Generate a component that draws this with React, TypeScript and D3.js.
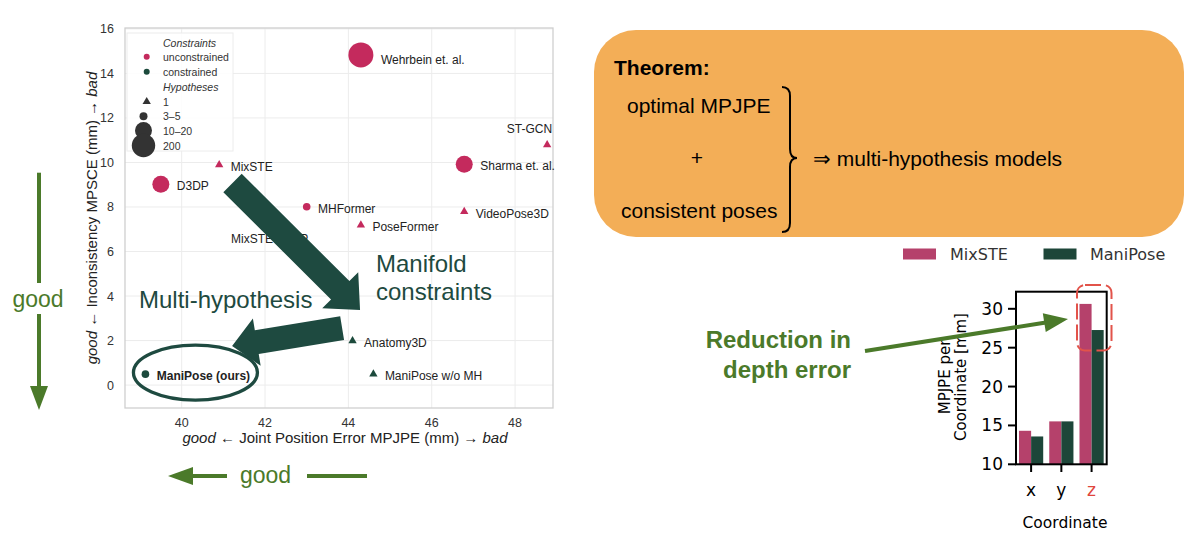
import * as d3 from 'd3';

// scatter data: MPJPE vs MPSCE
const methods = ['Wehrbein et. al.', 'ST-GCN', 'Sharma et. al.', 'MixSTE', 'D3DP', 'MHFormer', 'PoseFormer', 'VideoPose3D', 'Anatomy3D', 'ManiPose w/o MH', 'ManiPose (ours)'];
const mpjpe = [44.3, 48.77, 46.78, 40.9, 39.5, 43.0, 44.3, 46.78, 44.1, 44.6, 39.13];
const mpsce = [14.83, 10.79, 9.92, 9.89, 9.02, 8.01, 7.19, 7.79, 1.99, 0.49, 0.49];
const hypotheses = ['200', '1', '10–20', '1', '10–20', '3–5', '1', '1', '1', '1', '3–5'];
const constrained = [false, false, false, false, false, false, false, false, true, true, true];

const xTicks = [40, 42, 44, 46, 48];
const yTicks = [0, 2, 4, 6, 8, 10, 12, 14, 16];
const hypoLevels = ['1', '3–5', '10–20', '200'];
const constraintLevels = ['unconstrained', 'constrained'];

// bar chart data
const coords = ['x', 'y', 'z'];
const mixste = [14.31, 15.52, 30.63];
const manipose = [13.58, 15.52, 27.27];
const barTicks = [10, 15, 20, 25, 30];

const PINK = '#c42a5d';
const DARK = '#1c4a3c';
const GOOD = '#4b7a2a';
const ARROW = '#1e4a40';
const SANS = '"Liberation Sans", Arial, sans-serif';
const DV = '"DejaVu Sans", sans-serif';

function arrowPoly(x0: number, y0: number, x1: number, y1: number, sw: number, hw: number, hl: number) {
  const dx = x1 - x0, dy = y1 - y0;
  const L = Math.hypot(dx, dy);
  const ux = dx / L, uy = dy / L;
  const px = -uy, py = ux;
  const bx = x1 - ux * hl, by = y1 - uy * hl;
  const pts = [
    [x0 + px * sw / 2, y0 + py * sw / 2],
    [bx + px * sw / 2, by + py * sw / 2],
    [bx + px * hw / 2, by + py * hw / 2],
    [x1, y1],
    [bx - px * hw / 2, by - py * hw / 2],
    [bx - px * sw / 2, by - py * sw / 2],
    [x0 - px * sw / 2, y0 - py * sw / 2],
  ];
  return pts.map((p) => p.join(',')).join(' ');
}

export default function App() {
  const x = d3.scaleLinear().domain([38.64, 48.91]).range([125, 553]);
  const y = d3.scaleLinear().domain([-1.03, 16.04]).range([408, 28]);
  const radius = d3.scaleOrdinal<string, number>().domain(hypoLevels).range([0, 3.8, 8.5, 12.5]);
  const colour = (c: boolean) => (c ? DARK : PINK);
  const tri = d3.symbol(d3.symbolTriangle, 30)() as string;

  const bx = d3.scalePoint<string>().domain(coords).range([1016, 1106.7]).padding(0.5);
  const by = d3.scaleLinear().domain([10, 32.2]).range([464.3, 291.7]);
  const bw = bx.step() * 0.4;

  const marker = (h: string, c: boolean, cx: number, cy: number, key?: any) =>
    h === '1' ? (
      <path key={key} d={tri} transform={`translate(${cx},${cy})`} fill={colour(c)} />
    ) : (
      <circle key={key} cx={cx} cy={cy} r={radius(h)} fill={colour(c)} />
    );

  const a1 = arrowPoly(x(41.22), y(9.08), x(44.28), y(3.37), 26, 51, 28);
  const a2 = arrowPoly(x(43.85), y(2.56), x(41.21), y(1.75), 24, 48, 25);
  const redArrow = arrowPoly(865, 351, 1068, 319, 4, 19, 24);

  return (
    <svg width={1200} height={539} style={{ position: 'absolute', left: 0, top: 0, background: '#fff' }}>
      {/* ---------- scatter ---------- */}
      <g fontFamily={SANS}>
        {xTicks.map((t) => (
          <line key={'gx' + t} x1={x(t)} x2={x(t)} y1={28} y2={408} stroke="#ececec" />
        ))}
        {yTicks.map((t) => (
          <line key={'gy' + t} x1={125} x2={553} y1={y(t)} y2={y(t)} stroke="#ececec" />
        ))}
        <rect x={125} y={28} width={428} height={380} fill="none" stroke="#cfcfcf" strokeWidth={1.3} />
        {xTicks.map((t) => (
          <text key={'tx' + t} x={x(t)} y={427} textAnchor="middle" fontSize={12.5} fill="#333">{t}</text>
        ))}
        {yTicks.map((t) => (
          <text key={'ty' + t} x={114} y={y(t) + 4.5} textAnchor="end" fontSize={12.5} fill="#333">{t}</text>
        ))}
        <text x={345} y={443} textAnchor="middle" fontSize={15} fill="#222">
          <tspan fontStyle="italic">good</tspan> ← Joint Position Error MPJPE (mm) → <tspan fontStyle="italic">bad</tspan>
        </text>
        <text transform="translate(97,218) rotate(-90)" textAnchor="middle" fontSize={15} fill="#222">
          <tspan fontStyle="italic">good</tspan> ← Inconsistency MPSCE (mm) → <tspan fontStyle="italic">bad</tspan>
        </text>

        {/* point labels */}
        {methods.map((m, i) => {
          const r = hypotheses[i] === '1' ? 4 : radius(hypotheses[i]);
          const isTop = m === 'ST-GCN';
          return (
            <text
              key={'lb' + m}
              x={isTop ? x(mpjpe[i]) + 5 : x(mpjpe[i]) + r + 7.5}
              y={isTop ? y(mpsce[i]) - 12 : y(mpsce[i]) + (r > 10 ? 9 : 6)}
              textAnchor={isTop ? 'end' : 'start'}
              fontSize={12}
              fontWeight={m === 'ManiPose (ours)' ? 'bold' : 'normal'}
              fill="#222"
            >
              {m}
            </text>
          );
        })}
        <text x={231} y={242.5} fontSize={12} fill="#222">MixSTE w/ DP</text>

        {methods.map((m, i) => marker(hypotheses[i], constrained[i], x(mpjpe[i]), y(mpsce[i]), 'pt' + m))}

        {/* legend */}
        <rect x={127} y={33} width={106} height={118} fill="#fff" fillOpacity={0.85} stroke="#ececec" />
        <text x={163} y={46.5} fontSize={10.5} fontStyle="italic" fill="#333">Constraints</text>
        {constraintLevels.map((c, i) => (
          <g key={'lc' + c}>
            <circle cx={146.7} cy={56.7 + i * 15} r={3} fill={colour(i === 1)} />
            <text x={163} y={60.5 + i * 15} fontSize={10.5} fill="#333">{c}</text>
          </g>
        ))}
        <text x={163} y={90.5} fontSize={10.5} fontStyle="italic" fill="#333">Hypotheses</text>
        {hypoLevels.map((h, i) => {
          const cy = [101.7, 116.3, 130.5, 145.5][i];
          return (
            <g key={'lh' + h}>
              {h === '1' ? (
                <path d={tri} transform={`translate(146.7,${cy})`} fill="#333" />
              ) : (
                <circle cx={143.5} cy={cy} r={[0, 4, 8.5, 11.7][i]} fill="#333" />
              )}
              <text x={163} y={cy + 4} fontSize={10.5} fill="#333">{h}</text>
            </g>
          );
        })}

        {/* big annotation arrows */}
        <polygon points={a1} fill={ARROW} />
        <polygon points={a2} fill={ARROW} />
        <text x={376} y={272} fontSize={24} fill={ARROW}>Manifold</text>
        <text x={376} y={300} fontSize={24} fill={ARROW}>constraints</text>
        <text x={139} y={308} fontSize={24} fill={ARROW}>Multi-hypothesis</text>
        <ellipse cx={x(40.33)} cy={y(0.56)} rx={62} ry={27.5} fill="none" stroke={ARROW} strokeWidth={3.3} />

        {/* good arrows */}
        <line x1={39} x2={39} y1={172.7} y2={283} stroke={GOOD} strokeWidth={4} />
        <line x1={39} x2={39} y1={314} y2={388} stroke={GOOD} strokeWidth={4} />
        <polygon points="30,386 48,386 39,410" fill={GOOD} />
        <text x={38} y={307} textAnchor="middle" fontSize={23} fill={GOOD}>good</text>
        <polygon points="168,476 193,467 193,485" fill={GOOD} />
        <line x1={191} x2={227} y1={476} y2={476} stroke={GOOD} strokeWidth={4} />
        <text x={240} y={483} fontSize={23} fill={GOOD}>good</text>
        <line x1={307} x2={367} y1={476} y2={476} stroke={GOOD} strokeWidth={4} />
      </g>

      {/* ---------- theorem box ---------- */}
      <g fontFamily={SANS}>
        <rect x={594} y={30} width={590} height={207} rx={42} fill="#f3ae57" />
        <text x={614} y={75} fontSize={21} fontWeight="bold" fill="#000">Theorem:</text>
        <text x={627} y={113} fontSize={21} fill="#000">optimal MPJPE</text>
        <text x={697} y={165} fontSize={21} textAnchor="middle" fill="#000">+</text>
        <text x={621} y={218} fontSize={21} fill="#000">consistent poses</text>
        <path
          d="M782,87 Q790,87 790,96 L790,149 Q790,158 797,158 Q790,158 790,167 L790,223 Q790,232 782,232"
          fill="none"
          stroke="#000"
          strokeWidth={2}
        />
        <text x={813} y={166} fontSize={21} fill="#000">⇒ multi-hypothesis models</text>
      </g>

      {/* ---------- bar chart ---------- */}
      <g fontFamily={DV}>
        <rect x={903} y={248.5} width={33} height={11} fill="#b5416b" />
        <text x={950} y={260} fontSize={16} fill="#333">MixSTE</text>
        <rect x={1043.5} y={248.5} width={33} height={11} fill="#1d4639" />
        <text x={1090} y={260} fontSize={16} fill="#333">ManiPose</text>

        {coords.map((c, i) => (
          <g key={'bar' + c}>
            <rect x={(bx(c) as number) - bw} y={by(mixste[i])} width={bw} height={by(10) - by(mixste[i])} fill="#b5416b" />
            <rect x={bx(c) as number} y={by(manipose[i])} width={bw} height={by(10) - by(manipose[i])} fill="#1d4639" />
          </g>
        ))}
        <rect x={1016} y={291.7} width={90.7} height={172.6} fill="none" stroke="#000" strokeWidth={2} />
        {barTicks.map((t) => (
          <g key={'bt' + t}>
            <line x1={1008} x2={1016} y1={by(t)} y2={by(t)} stroke="#000" strokeWidth={2} />
            <text x={1003} y={by(t) + 6} textAnchor="end" fontSize={17} fill="#000">{t}</text>
          </g>
        ))}
        {coords.map((c) => (
          <g key={'bx' + c}>
            <line x1={bx(c)} x2={bx(c)} y1={464} y2={472} stroke="#000" strokeWidth={2} />
            <text x={bx(c)} y={496} textAnchor="middle" fontSize={17} fill={c === 'z' ? '#e0453c' : '#000'}>{c}</text>
          </g>
        ))}
        <text x={1065} y={528} textAnchor="middle" fontSize={15.5} fill="#000">Coordinate</text>
        <text transform="translate(950,377) rotate(-90)" textAnchor="middle" fontSize={15} fill="#000">MPJPE per</text>
        <text transform="translate(966,377) rotate(-90)" textAnchor="middle" fontSize={15} fill="#000">Coordinate [mm]</text>

        <rect x={1077} y={285} width={34.5} height={65.5} rx={8} fill="none" stroke="#e2534a" strokeWidth={2} strokeDasharray="16 5" />

        <polygon points={redArrow} fill={GOOD} />
      </g>
      <g fontFamily={SANS}>
        <text x={851} y={348} textAnchor="end" fontSize={24} fontWeight="bold" fill={GOOD}>Reduction in</text>
        <text x={851} y={378} textAnchor="end" fontSize={24} fontWeight="bold" fill={GOOD}>depth error</text>
      </g>
    </svg>
  );
}
